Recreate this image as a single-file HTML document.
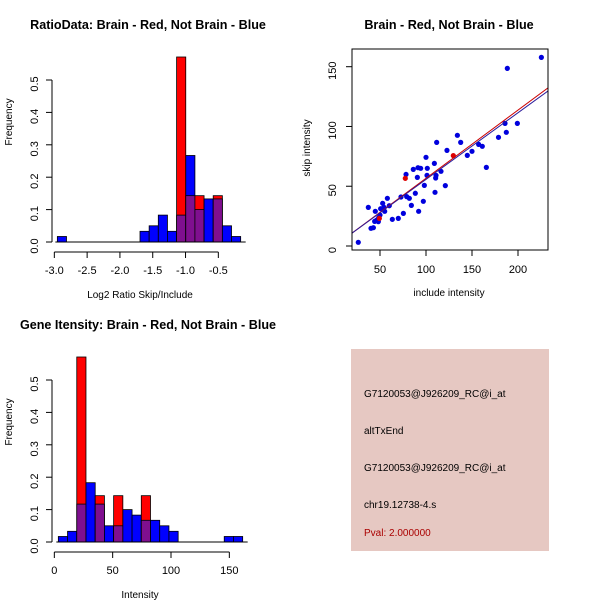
<!DOCTYPE html>
<html><head><meta charset="utf-8"><style>
body{margin:0;background:#fff;}
svg{display:block;font-family:"Liberation Sans",sans-serif;}
</style></head><body>
<svg id="c" width="600" height="600"></svg>
<script>
// ---- Data: ratio histogram ----
const ratioBinStart = -1.694, ratioBinWidth = 0.1395;
const ratioBlue = [0.033,0.05,0.083,0.033,0.083,0.267,0.10,0.133,0.133,0.05,0.017];
const ratioRed  = [0,0,0,0,0.571,0.143,0.143,0,0.143,0,0];
const ratioOutlierStart = -2.954, ratioOutlierBlue = 0.017;
const ratioXTicks = [-3.0,-2.5,-2.0,-1.5,-1.0,-0.5];
const freqTicks = [0,0.1,0.2,0.3,0.4,0.5];
// ---- Data: intensity histogram ----
const intBinStart = 3.43, intBinWidth = 7.9;
const intBlue = [0.017,0.033,0.117,0.183,0.117,0.05,0.05,0.10,0.083,0.067,0.067,0.05,0.033,0,0,0,0,0,0.017,0.017];
const intRed  = [0,0,0.571,0,0.143,0,0.143,0,0,0.143,0,0,0,0,0,0,0,0,0,0];
const intXTicks = [0,50,100,150];
// ---- Data: scatter ----
const incBlue = [26.4,37.3,40.2,42.8,44.9,44.2,46.4,48.2,48.6,50,50.7,52.9,54.3,55.1,58.0,60.1,63.4,69.9,72.8,75.4,78.3,79.0,81.9,84.1,86.2,88.4,90.6,91.3,92.0,94.2,97.1,98.2,100.0,101.4,101.1,109.1,109.8,110.5,110.9,111.6,116.3,121.0,122.8,134.1,137.7,144.9,150.0,157.2,161.2,165.6,178.8,185.9,187.3,188.4,199.3,225.4];
const skipBlue = [3.1,32.3,14.8,15.3,29.0,20.6,21.7,20.4,23.7,25.9,31.2,35.7,32.3,29.0,39.9,33.7,22.3,23.1,41.0,27.3,59.9,41.3,39.9,34.0,64.1,44.1,57.4,65.5,29.0,65.0,37.4,50.7,74.2,65.0,59.1,69.1,44.9,56.9,59.1,86.7,62.5,50.5,80.0,92.6,86.7,75.8,79.2,85.0,83.4,65.8,90.9,102.6,95.1,148.6,102.6,157.8];
const incRed = [77.5,49.3,129.7];
const skipRed = [56.6,23.1,75.6];
const fitBlue = [-0.1,0.558]; // intercept, slope
const fitRed = [-0.34,0.570];
const scXTicks = [50,100,150,200];
const scYTicks = [0,50,100,150];

const svg = document.getElementById('c');
const NS = 'http://www.w3.org/2000/svg';
function el(tag, attrs, parent){
  const e = document.createElementNS(NS, tag);
  for (const k in attrs) e.setAttribute(k, attrs[k]);
  (parent||svg).appendChild(e);
  return e;
}
function txt(x,y,s,opts,parent){
  const t = el('text',{x:x,y:y,'font-size':opts.size||11,'text-anchor':opts.anchor||'middle',fill:opts.fill||'#000','font-weight':opts.bold?'bold':'normal'},parent);
  if (opts.rot) t.setAttribute('transform','rotate(-90 '+x+' '+y+')');
  t.textContent = s;
  return t;
}

function histogram(name, top, title, xlabel, xTicks, xs, fy, bins, fmt){
  const g = el('g',{});
  
  
  const t = txt(148, top+29, title, {size:12.6, bold:true}, g);
  
  
  bins.forEach(b=>{
    const x0 = xs(b.x0), x1 = xs(b.x1);
    const hi = Math.max(b.r,b.b), lo = Math.min(b.r,b.b);
    if (hi > 0){
      const r = el('rect',{x:x0,y:fy(hi),width:x1-x0,height:fy(0)-fy(hi),fill:b.r>b.b?'#ff0000':'#0000ff',stroke:'#000','stroke-width':0.8},g);
      
      
    }
    if (lo > 0){
      const r2 = el('rect',{x:x0,y:fy(lo),width:x1-x0,height:fy(0)-fy(lo),fill:'#7f0f8f',stroke:'#000','stroke-width':0.8},g);
      
      
    }
  });
  el('line',{x1:xs(bins[0].x0)-2,x2:xs(bins[bins.length-1].x1)+5,y1:fy(0),y2:fy(0),stroke:'#000'},g);
  const ya = el('g',{},g);
  
  
  el('line',{x1:52,x2:52,y1:fy(0),y2:fy(0.5),stroke:'#000'},ya);
  freqTicks.forEach(v=>{
    el('line',{x1:46,x2:52,y1:fy(v),y2:fy(v),stroke:'#000'},ya);
    txt(38,fy(v)+4,v.toFixed(1),{size:11,rot:true},ya);
  });
  const yl = txt(12, top+122, 'Frequency', {size:10, rot:true}, g);
  
  
  const xa = el('g',{},g);
  
  
  el('line',{x1:xs(xTicks[0]),x2:xs(xTicks[xTicks.length-1]),y1:fy(0)+10,y2:fy(0)+10,stroke:'#000'},xa);
  xTicks.forEach(v=>{
    el('line',{x1:xs(v),x2:xs(v),y1:fy(0)+10,y2:fy(0)+16,stroke:'#000'},xa);
    txt(xs(v),fy(0)+32,fmt(v),{size:11},xa);
  });
  const xl = txt(140, fy(0)+56, xlabel, {size:10}, g);
  
  
}

(function(){
  const xs = v => 54.33 + (v + 3) * 65.6;
  const fy = v => 242 - v * 324;
  const bins = [{x0:ratioOutlierStart,x1:ratioOutlierStart+ratioBinWidth,r:0,b:ratioOutlierBlue}];
  ratioBlue.forEach((b,i)=>bins.push({x0:ratioBinStart+i*ratioBinWidth,x1:ratioBinStart+(i+1)*ratioBinWidth,r:ratioRed[i],b:b}));
  histogram('ratio-histogram', 0, 'RatioData: Brain - Red, Not Brain - Blue', 'Log2 Ratio Skip/Include', ratioXTicks, xs, fy, bins, v=>v.toFixed(1));
})();
(function(){
  const xs = v => 54.33 + v * 1.1667;
  const fy = v => 542 - v * 324;
  const bins = intBlue.map((b,i)=>({x0:intBinStart+i*intBinWidth,x1:intBinStart+(i+1)*intBinWidth,r:intRed[i],b:b}));
  histogram('intensity-histogram', 300, 'Gene Itensity: Brain - Red, Not Brain - Blue', 'Intensity', intXTicks, xs, fy, bins, v=>String(v));
})();

(function(){
  const g = el('g',{});
  
  
  const L=352,R=548,T=49,B=250;
  const xs = v => 380 + (v - 50) * 0.92;
  const ys = v => 246 - v * 1.1953;
  const tt = txt(449, 29, 'Brain - Red, Not Brain - Blue', {size:12.6, bold:true}, g);
  
  
  el('clipPath',{id:'clp'},g).appendChild((()=>{const r=document.createElementNS(NS,'rect');r.setAttribute('x',L);r.setAttribute('y',T);r.setAttribute('width',R-L);r.setAttribute('height',B-T);return r;})());
  const pts = el('g',{},g);
  
  
  incBlue.forEach((v,i)=>{
    const c = el('circle',{cx:xs(v),cy:ys(skipBlue[i]),r:2.6,fill:'#0000dd'},pts);
    
    
  });
  incRed.forEach((v,i)=>{
    const c = el('circle',{cx:xs(v),cy:ys(skipRed[i]),r:2.6,fill:'#dd0000'},pts);
    
    
  });
  const x0 = 0, x1 = 260;
  const lr = el('line',{x1:xs(x0),y1:ys(fitRed[0]+fitRed[1]*x0),x2:xs(x1),y2:ys(fitRed[0]+fitRed[1]*x1),stroke:'#cc0000','stroke-width':1,'clip-path':'url(#clp)'},g);
  
  
  const lb = el('line',{x1:xs(x0),y1:ys(fitBlue[0]+fitBlue[1]*x0),x2:xs(x1),y2:ys(fitBlue[0]+fitBlue[1]*x1),stroke:'#2a1a9a','stroke-width':1,'clip-path':'url(#clp)'},g);
  
  
  el('rect',{x:L,y:T,width:R-L,height:B-T,fill:'none',stroke:'#000'},g);
  const xa = el('g',{},g);
  
  
  scXTicks.forEach(v=>{
    el('line',{x1:xs(v),x2:xs(v),y1:B,y2:B+6,stroke:'#000'},xa);
    txt(xs(v),B+23,String(v),{size:11},xa);
  });
  const ya = el('g',{},g);
  
  
  scYTicks.forEach(v=>{
    el('line',{x1:L-6,x2:L,y1:ys(v),y2:ys(v),stroke:'#000'},ya);
    txt(336,ys(v)+4,String(v),{size:11,rot:true},ya);
  });
  const xl = txt(449, 296, 'include intensity', {size:10}, g);
  
  
  const yl = txt(310, 148, 'skip intensity', {size:10, rot:true}, g);
  
  
})();

(function(){
  const g = el('g',{});
  
  
  el('rect',{x:351,y:349,width:198,height:202,fill:'#e6c8c2'},g);
  const lines = [['G7120053@J926209_RC@i_at',397,'#000','probe-id'],['altTxEnd',434,'#000','event-type'],['G7120053@J926209_RC@i_at',471,'#000','probe-id-2'],['chr19.12738-4.s',508,'#000','gene-locus'],['Pval: 2.000000',536,'#aa0000','p-value']];
  lines.forEach(l=>{
    const t = txt(364,l[1],l[0],{size:10,anchor:'start',fill:l[2]},g);
    
    
  });
})();
</script>
</body></html>
